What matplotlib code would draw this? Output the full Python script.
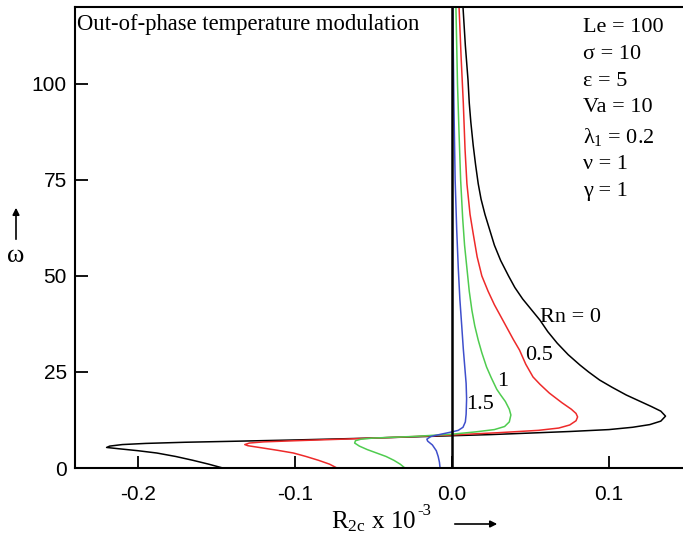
import matplotlib
matplotlib.use("Agg")
import matplotlib.pyplot as plt
from matplotlib.patches import FancyArrowPatch

plt.rcParams['axes.unicode_minus'] = False
plt.rcParams['mathtext.fontset'] = 'custom'
plt.rcParams['mathtext.rm'] = 'Liberation Serif'
plt.rcParams['mathtext.it'] = 'Liberation Serif:italic'

# ---- data: (R2c x 1e-3, omega) along each curve ----
black_R = [-0.146, -0.155, -0.165, -0.176, -0.188, -0.200, -0.212, -0.220, -0.218, -0.210, -0.195,
           -0.170, -0.140, -0.100, -0.050, 0.000, 0.025, 0.050, 0.075, 0.100, 0.115, 0.126, 0.133,
           0.136, 0.133, 0.127, 0.119, 0.111, 0.102, 0.094, 0.087, 0.0815, 0.074, 0.067, 0.061,
           0.056, 0.050, 0.045, 0.040, 0.036, 0.031, 0.027, 0.024, 0.021, 0.0185, 0.0167, 0.015,
           0.0135, 0.012, 0.011, 0.0102, 0.0085, 0.007]
black_w = [0.0, 1.0, 2.0, 3.0, 3.9, 4.5, 5.0, 5.35, 5.7, 6.1, 6.4,
           6.7, 6.95, 7.3, 7.8, 8.4, 8.7, 9.1, 9.5, 10.0, 10.6, 11.3, 12.2,
           13.5, 14.8, 16.0, 17.5, 19.0, 21.0, 22.9, 25.0, 26.8, 29.5, 32.5, 35.5,
           38.5, 41.5, 44.0, 47.0, 50.0, 54.0, 58.0, 62.0, 66.0, 70.0, 74.0, 79.0,
           84.0, 90.0, 95.0, 101.0, 110.0, 120.0]

red_R = [-0.0733, -0.078, -0.085, -0.093, -0.101, -0.111, -0.122, -0.130, -0.132, -0.129, -0.120,
         -0.100, -0.070, -0.035, 0.000, 0.030, 0.055, 0.068, 0.075, 0.079, 0.080, 0.079, 0.076,
         0.070, 0.062, 0.056, 0.0516, 0.047, 0.043, 0.039, 0.035, 0.031, 0.027, 0.023, 0.019,
         0.016, 0.0135, 0.0115, 0.0095, 0.0083, 0.0072, 0.0058, 0.0045]
red_w = [0.0, 1.0, 2.0, 3.0, 3.9, 4.6, 5.3, 5.8, 6.1, 6.5, 6.8,
         7.1, 7.5, 8.0, 8.6, 9.2, 9.8, 10.4, 11.2, 12.3, 13.3, 14.2, 15.3,
         17.0, 19.5, 21.8, 23.7, 27.0, 30.7, 33.5, 36.5, 39.5, 42.5, 46.0, 50.0,
         55.0, 61.0, 66.0, 74.0, 83.0, 95.0, 107.0, 120.0]

green_R = [-0.030, -0.033, -0.037, -0.042, -0.048, -0.054, -0.059, -0.062, -0.0615, -0.058, -0.050,
           -0.025, 0.000, 0.015, 0.027, 0.0335, 0.0365, 0.0375, 0.0365, 0.034, 0.031, 0.0285,
           0.025, 0.022, 0.019, 0.0167, 0.0145, 0.0127, 0.0110, 0.0095, 0.0080, 0.0068, 0.0055,
           0.0045, 0.0035, 0.0025]
green_w = [0.0, 1.0, 2.0, 3.0, 3.9, 4.8, 5.7, 6.5, 7.1, 7.5, 7.8,
           8.2, 8.8, 9.4, 10.0, 10.8, 12.0, 13.8, 15.3, 17.3, 19.0, 20.5,
           23.5, 26.3, 30.0, 33.3, 37.0, 41.0, 46.0, 52.0, 58.0, 65.0, 75.0,
           87.0, 100.0, 120.0]

blue_R = [-0.0076, -0.0080, -0.0088, -0.0100, -0.0125, -0.0155, -0.0160, -0.0135, -0.0070, 0.000,
          0.004, 0.007, 0.0085, 0.0090, 0.0093, 0.0090, 0.0082, 0.0072, 0.0062, 0.0050, 0.0040,
          0.0030, 0.0020, 0.0012, 0.0005]
blue_w = [0.0, 1.5, 3.0, 4.5, 6.0, 7.0, 7.5, 8.2, 8.8, 9.4,
          9.8, 10.6, 12.0, 14.0, 18.0, 22.0, 26.0, 31.0, 37.0, 44.0, 52.0,
          62.0, 75.0, 95.0, 120.0]

curve_labels = ["Rn = 0", "0.5", "1", "1.5"]
label_R = [0.0755, 0.0554, 0.0325, 0.018]
label_w = [39.3, 29.4, 22.4, 16.4]

params = ["Le = 100", "σ = 10", "ε = 5", "Va = 10", "λ$_{\\rm 1}$ = 0.2", "ν = 1", "γ = 1"]
param_w = [114.6, 107.6, 100.5, 93.75, 86.2, 78.9, 71.9]

xticks = [-0.2, -0.1, 0.0, 0.1]
xticklabels = ["-0.2", "-0.1", "0.0", "0.1"]
yticks = [0, 25, 50, 75, 100]

# ---- figure ----
W, H = 683, 544
fig = plt.figure(figsize=(W / 100, H / 100), dpi=100)
ax = fig.add_axes([75.2 / W, 76 / H, 612.3 / W, 461 / H])

serif = ['Liberation Serif', 'DejaVu Serif']
sans = ['Liberation Sans', 'DejaVu Sans']

ax.plot(black_R, black_w, color='black', lw=1.1)
ax.plot(red_R, red_w, color='#ee2a2a', lw=1.1)
ax.plot(green_R, green_w, color='#4fcc4f', lw=1.1)
ax.plot(blue_R, blue_w, color='#3f4fcc', lw=1.1)
ax.axvline(0.0, color='black', lw=1.8)

ax.set_xlim(-0.24, 0.15)
ax.set_ylim(0, 120)
ax.set_xticks(xticks)
ax.set_xticklabels(xticklabels)
ax.set_yticks(yticks)
ax.tick_params(direction='in', length=9, width=1.3, labelsize=15)
ax.tick_params(axis='x', pad=12)
ax.tick_params(axis='y', pad=6)
for lab in ax.get_xticklabels() + ax.get_yticklabels():
    lab.set_family(sans)
for s in ax.spines.values():
    s.set_linewidth(1.5)

for t, r, w in zip(curve_labels, label_R, label_w):
    ax.text(r, w, t, family=serif, fontsize=16, ha='center', va='center')

for t, w in zip(params, param_w):
    ax.text(0.0834, w, t, family=serif, fontsize=16, ha='left', va='center')

ax.text(-0.2389, 115.4, "Out-of-phase temperature modulation", family=serif, fontsize=16.3,
        ha='left', va='center')

# axis labels with arrows (figure pixel coordinates)
xl = fig.text(331 / W, 1 - 522 / H, "R$_{\\rm 2c}$ x 10", family=serif, fontsize=18,
              ha='left', va='center')
fig.canvas.draw()
bb = xl.get_window_extent()
fig.text((bb.x1 + 1) / W, 1 - 511 / H, "-3", family=serif, fontsize=12, ha='left', va='center')
fig.add_artist(FancyArrowPatch((452 / W, 1 - 524 / H), (500 / W, 1 - 524 / H),
               transform=fig.transFigure, arrowstyle='-|>', mutation_scale=10, lw=1.2, color='black'))
fig.text(16 / W, 1 - 256 / H, "ω", family=serif, fontsize=19, ha='center', va='center')
fig.add_artist(FancyArrowPatch((16 / W, 1 - 242 / H), (16 / W, 1 - 205 / H),
               transform=fig.transFigure, arrowstyle='-|>', mutation_scale=10, lw=1.2, color='black'))

fig.savefig("out.png", dpi=100)
